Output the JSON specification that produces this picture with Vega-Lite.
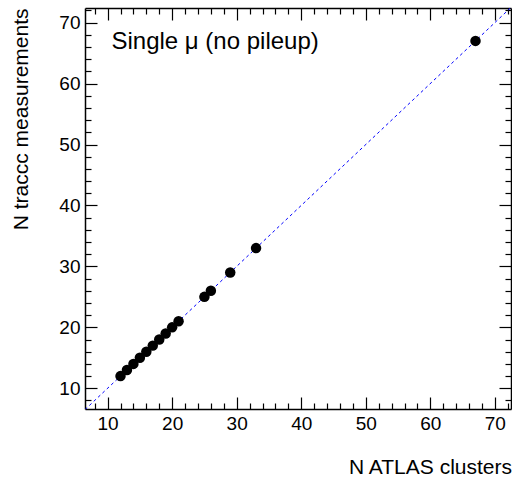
{
  "$schema": "https://vega.github.io/schema/vega-lite/v6.json",
  "width": 426,
  "height": 401,
  "autosize": {"type": "none"},
  "padding": {"left": 85, "top": 8, "right": 1, "bottom": 72},
  "background": "white",
  "config": {
    "view": {"stroke": null},
    "font": "Liberation Sans",
    "axis": {
      "grid": false,
      "domainColor": "black",
      "domainWidth": 1.5,
      "tickColor": "black",
      "tickWidth": 1.2,
      "labelFont": "Liberation Sans",
      "labelFontSize": 19,
      "labelColor": "black",
      "titleFont": "Liberation Sans",
      "titleFontSize": 21,
      "titleFontWeight": "normal",
      "titleColor": "black"
    }
  },
  "datasets": {
    "pts": [
      {"atlas": 12, "traccc": 12},
      {"atlas": 13, "traccc": 13},
      {"atlas": 14, "traccc": 14},
      {"atlas": 15, "traccc": 15},
      {"atlas": 16, "traccc": 16},
      {"atlas": 17, "traccc": 17},
      {"atlas": 18, "traccc": 18},
      {"atlas": 19, "traccc": 19},
      {"atlas": 20, "traccc": 20},
      {"atlas": 21, "traccc": 21},
      {"atlas": 25, "traccc": 25},
      {"atlas": 26, "traccc": 26},
      {"atlas": 29, "traccc": 29},
      {"atlas": 33, "traccc": 33},
      {"atlas": 67, "traccc": 67}
    ],
    "diag": [
      {"atlas": 6.5, "traccc": 6.5},
      {"atlas": 72.5, "traccc": 72.5}
    ],
    "label": [
      {"atlas": 10.6, "traccc": 65.6, "text": "Single μ (no pileup)"}
    ]
  },
  "layer": [
    {
      "data": {"name": "diag"},
      "mark": {"type": "line", "color": "#0000ff", "strokeWidth": 1, "strokeDash": [3, 3], "clip": true},
      "encoding": {
        "x": {
          "field": "atlas", "type": "quantitative",
          "scale": {"domain": [6.5, 72.5], "nice": false, "zero": false},
          "axis": {
            "orient": "top",
            "title": null,
            "labels": false,
            "values": [8,10,12,14,16,18,20,22,24,26,28,30,32,34,36,38,40,42,44,46,48,50,52,54,56,58,60,62,64,66,68,70,72],
            "tickSize": {"condition": {"test": "datum.value % 10 === 0", "value": -12}, "value": -6}
          }
        },
        "y": {
          "field": "traccc", "type": "quantitative",
          "scale": {"domain": [6.6, 72.4], "nice": false, "zero": false},
          "axis": {
            "orient": "right",
            "title": null,
            "labels": false,
            "values": [8,10,12,14,16,18,20,22,24,26,28,30,32,34,36,38,40,42,44,46,48,50,52,54,56,58,60,62,64,66,68,70,72],
            "tickSize": {"condition": {"test": "datum.value % 10 === 0", "value": -12}, "value": -6}
          }
        }
      }
    },
    {
      "data": {"name": "pts"},
      "mark": {"type": "circle", "color": "black", "size": 110, "opacity": 1},
      "encoding": {
        "x": {
          "field": "atlas", "type": "quantitative",
          "axis": {
            "orient": "bottom",
            "title": "N ATLAS clusters",
            "titleAnchor": "end",
            "titleAlign": "right",
            "titleBaseline": "alphabetic",
            "titleX": 426.5,
            "titleY": 64.5,
            "values": [8,10,12,14,16,18,20,22,24,26,28,30,32,34,36,38,40,42,44,46,48,50,52,54,56,58,60,62,64,66,68,70,72],
            "labelExpr": "datum.value % 10 === 0 ? datum.label : ''",
            "tickSize": {"condition": {"test": "datum.value % 10 === 0", "value": -12}, "value": -6},
            "labelPadding": 17
          }
        },
        "y": {
          "field": "traccc", "type": "quantitative",
          "axis": {
            "orient": "left",
            "title": "N traccc measurements",
            "titleAngle": -90,
            "titleAlign": "right",
            "titleBaseline": "alphabetic",
            "titleX": -58,
            "titleY": 0,
            "values": [8,10,12,14,16,18,20,22,24,26,28,30,32,34,36,38,40,42,44,46,48,50,52,54,56,58,60,62,64,66,68,70,72],
            "labelExpr": "datum.value % 10 === 0 ? datum.label : ''",
            "tickSize": {"condition": {"test": "datum.value % 10 === 0", "value": -12}, "value": -6},
            "labelPadding": 17
          }
        }
      }
    },
    {
      "data": {"name": "label"},
      "mark": {"type": "text", "align": "left", "baseline": "alphabetic", "fontSize": 24, "font": "Liberation Sans", "color": "black"},
      "encoding": {
        "x": {"field": "atlas", "type": "quantitative", "axis": null},
        "y": {"field": "traccc", "type": "quantitative", "axis": null},
        "text": {"field": "text"}
      }
    }
  ],
  "resolve": {"axis": {"x": "independent", "y": "independent"}}
}
